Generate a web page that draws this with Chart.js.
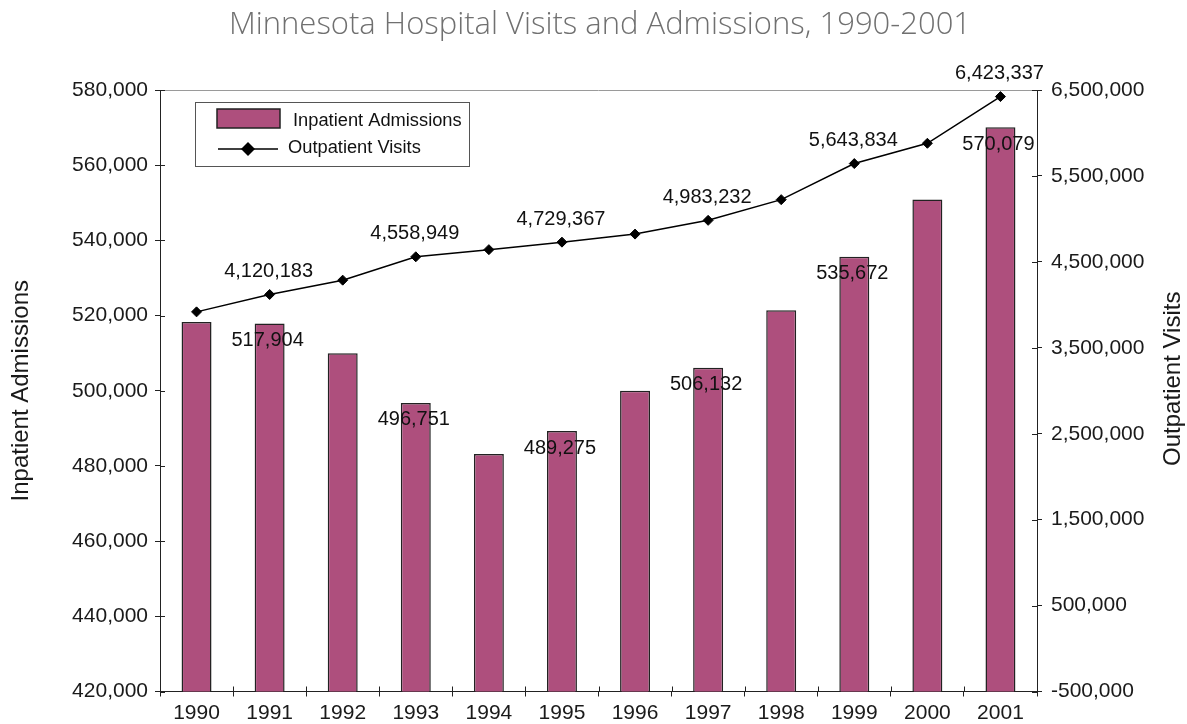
<!DOCTYPE html>
<html>
<head>
<meta charset="utf-8">
<title>Minnesota Hospital Visits and Admissions, 1990-2001</title>
<script src="https://cdn.jsdelivr.net/npm/chart.js@4.4.1/dist/chart.umd.min.js"></script>
<style>
  html, body { margin: 0; padding: 0; background: #fff; }
  #wrap { width: 1187px; height: 724px; }
</style>
</head>
<body>
<div id="wrap"><canvas id="chart" width="1187" height="724"></canvas></div>
<script>
// values
const years = ['1990', '1991', '1992', '1993', '1994', '1995', '1996', '1997', '1998', '1999', '2000', '2001'];
const inpatient = [518300, 517904, 510000, 496751, 483150, 489275, 500000, 506132, 521400, 535672, 550900, 570079];
const outpatient = [3918000, 4120183, 4287000, 4558949, 4642000, 4729367, 4823000, 4983232, 5224000, 5643834, 5880000, 6423337];
// only every other year carries a value label
const labeledYears = ['1991', '1993', '1995', '1997', '1999', '2001'];

const leftTicks = { min: 420000, max: 580000, step: 20000 };
const rightTicks = { min: -500000, max: 6500000, step: 1000000 };

const FONT = "'Liberation Sans', Arial, Helvetica, sans-serif";
const BAR_COLOR = '#AE4F7D';
const fmt = v => v.toLocaleString('en-US');

Chart.defaults.font.family = FONT;
Chart.defaults.color = '#1a1a1a';

function hline(ctx, x1, y1, x2, y2) {
  ctx.beginPath();
  ctx.moveTo(x1, y1);
  ctx.lineTo(x2, y2);
  ctx.stroke();
}

// value labels: above the line points, just under the bar tops
const valueLabels = {
  id: 'valueLabels',
  afterDatasetsDraw(chart) {
    const ctx = chart.ctx;
    const lineMeta = chart.getDatasetMeta(0);
    const barMeta = chart.getDatasetMeta(1);
    ctx.save();
    ctx.font = '20px ' + FONT;
    ctx.fillStyle = '#111';
    ctx.textAlign = 'center';
    ctx.textBaseline = 'middle';
    years.forEach((yr, i) => {
      if (!labeledYears.includes(yr)) return;
      const p = lineMeta.data[i];
      ctx.fillText(fmt(outpatient[i]), p.x - 1, p.y - 23);
      const b = barMeta.data[i];
      ctx.fillText(fmt(inpatient[i]), b.x - 2, b.y + 17);
    });
    ctx.restore();
  }
};

const decor = {
  id: 'decor',
  afterDraw(chart) {
    const { ctx, chartArea: a, scales } = chart;
    ctx.save();

    // grey top frame line
    ctx.strokeStyle = '#9a9a9a';
    ctx.lineWidth = 1;
    hline(ctx, a.left, a.top + 0.5, a.right, a.top + 0.5);

    // inner halves of the tick marks (they cross the axes)
    ctx.strokeStyle = '#222';
    scales.y.ticks.forEach(t => {
      const y = Math.round(scales.y.getPixelForValue(t.value)) + 0.5;
      hline(ctx, a.left, y, a.left + 5, y);
    });
    scales.y2.ticks.forEach(t => {
      const y = Math.round(scales.y2.getPixelForValue(t.value)) + 0.5;
      hline(ctx, a.right - 5, y, a.right, y);
    });
    for (let i = 0; i <= years.length; i++) {
      const x = Math.round(scales.x.getPixelForValue(i - 0.5)) + 0.5;
      hline(ctx, x, a.bottom - 5, x, a.bottom);
    }

    // title
    ctx.fillStyle = '#707070';
    ctx.font = "300 31px 'Open Sans', sans-serif";
    ctx.textAlign = 'center';
    ctx.textBaseline = 'middle';
    ctx.fillText('Minnesota Hospital Visits and Admissions, 1990-2001', 600, 25);

    // axis titles, both reading bottom to top
    ctx.fillStyle = '#1a1a1a';
    ctx.font = '24px ' + FONT;
    const midY = (a.top + a.bottom) / 2;
    ctx.save();
    ctx.translate(21, midY);
    ctx.rotate(-Math.PI / 2);
    ctx.fillText('Inpatient Admissions', 0, 0);
    ctx.restore();
    ctx.save();
    ctx.translate(1173, midY - 12);
    ctx.rotate(-Math.PI / 2);
    ctx.fillText('Outpatient Visits', 0, 0);
    ctx.restore();

    // legend box
    const lx = 195, ly = 102, lw = 274, lh = 64;
    ctx.fillStyle = '#fff';
    ctx.fillRect(lx, ly, lw, lh);
    ctx.strokeStyle = '#555';
    ctx.lineWidth = 1;
    ctx.strokeRect(lx + 0.5, ly + 0.5, lw, lh);

    const barDs = chart.data.datasets[1];
    const lineDs = chart.data.datasets[0];
    ctx.fillStyle = barDs.backgroundColor;
    ctx.fillRect(217, 109, 63, 19);
    ctx.strokeStyle = barDs.borderColor;
    ctx.lineWidth = 1.5;
    ctx.strokeRect(217, 109, 63, 19);

    ctx.strokeStyle = lineDs.borderColor;
    ctx.lineWidth = 1.5;
    hline(ctx, 218, 149, 278, 149);
    ctx.fillStyle = lineDs.pointBackgroundColor;
    ctx.beginPath();
    ctx.moveTo(248, 142);
    ctx.lineTo(255, 149);
    ctx.lineTo(248, 156);
    ctx.lineTo(241, 149);
    ctx.closePath();
    ctx.fill();

    ctx.fillStyle = '#111';
    ctx.font = '18.3px ' + FONT;
    ctx.textAlign = 'left';
    ctx.fillText('Inpatient Admissions', 293, 121);
    ctx.fillText('Outpatient Visits', 288, 148);

    ctx.restore();
  }
};

new Chart(document.getElementById('chart').getContext('2d'), {
  data: {
    labels: years,
    datasets: [
      {
        type: 'line',
        label: 'Outpatient Visits',
        data: outpatient,
        yAxisID: 'y2',
        borderColor: '#000',
        borderWidth: 1.5,
        pointStyle: 'rectRot',
        pointRadius: 5,
        pointBackgroundColor: '#000',
        pointBorderColor: '#000',
        pointBorderWidth: 1,
        tension: 0,
        order: 0
      },
      {
        type: 'bar',
        label: 'Inpatient Admissions',
        data: inpatient,
        yAxisID: 'y',
        backgroundColor: BAR_COLOR,
        borderColor: '#222',
        borderWidth: 1.5,
        borderSkipped: false,
        categoryPercentage: 1,
        barPercentage: 0.41,
        order: 1
      }
    ]
  },
  options: {
    responsive: false,
    animation: false,
    layout: { padding: { top: 90, left: 0, right: 0, bottom: 0 } },
    plugins: {
      legend: { display: false },
      title: { display: false },
      tooltip: { enabled: false }
    },
    scales: {
      x: {
        type: 'category',
        offset: true,
        grid: { display: true, offset: true, drawOnChartArea: false, drawTicks: true, tickLength: 5, color: '#222' },
        border: { display: true, color: '#222', width: 1 },
        ticks: { font: { size: 21 }, color: '#1a1a1a', padding: 4, maxRotation: 0 },
        afterFit: s => { s.height = 32.5; }
      },
      y: {
        position: 'left',
        min: leftTicks.min,
        max: leftTicks.max,
        grid: { display: true, drawOnChartArea: false, drawTicks: true, tickLength: 5, color: '#222' },
        border: { display: true, color: '#222', width: 1 },
        ticks: { stepSize: leftTicks.step, font: { size: 21 }, color: '#1a1a1a', padding: 7, callback: v => fmt(v) },
        afterFit: s => { s.width = 160; }
      },
      y2: {
        position: 'right',
        min: rightTicks.min,
        max: rightTicks.max,
        grid: { display: true, drawOnChartArea: false, drawTicks: true, tickLength: 5, color: '#222' },
        border: { display: true, color: '#222', width: 1 },
        ticks: { stepSize: rightTicks.step, font: { size: 21 }, color: '#1a1a1a', padding: 9, callback: v => fmt(v) },
        afterFit: s => { s.width = 150; }
      }
    }
  },
  plugins: [valueLabels, decor]
});
</script>
</body>
</html>
